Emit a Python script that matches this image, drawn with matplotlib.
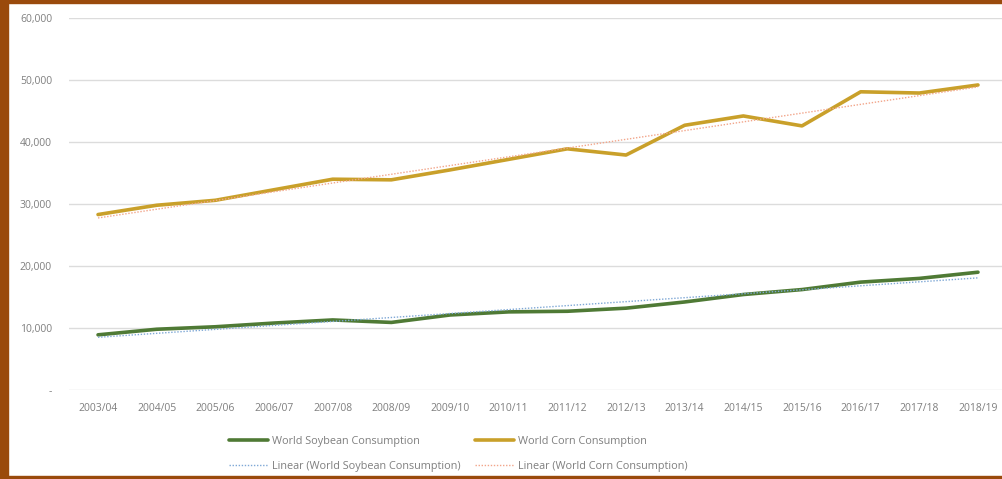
import numpy as np
import matplotlib
matplotlib.use("Agg")
import matplotlib.pyplot as plt
from matplotlib.patches import Rectangle
from matplotlib.ticker import FuncFormatter

# World consumption, thousand tonnes
seasons = ["2003/04", "2004/05", "2005/06", "2006/07", "2007/08", "2008/09",
           "2009/10", "2010/11", "2011/12", "2012/13", "2013/14", "2014/15",
           "2015/16", "2016/17", "2017/18", "2018/19"]
soybean = [8900, 9800, 10200, 10800, 11300, 10900, 12100, 12600,
           12700, 13200, 14200, 15400, 16200, 17400, 18000, 19000]
corn = [28300, 29800, 30600, 32300, 34000, 33900, 35500, 37200,
        38900, 37900, 42700, 44200, 42600, 48100, 47900, 49200]

SOY_COLOR = "#4f7a35"
CORN_COLOR = "#c9a02a"
SOY_TREND = "#7fa8d6"
CORN_TREND = "#f2a58a"
BORDER = "#9a4a0c"
TEXT = "#7f7f7f"

plt.rcParams['font.family'] = ['Open Sans', 'DejaVu Sans']

fig = plt.figure(figsize=(10.03, 4.79), dpi=100)
ax = fig.add_axes([0.0685, 0.1858, 0.9358, 0.7766])

x = np.arange(len(seasons))

# linear trendlines fitted to each series
soy_fit = np.polyval(np.polyfit(x, soybean, 1), x)
corn_fit = np.polyval(np.polyfit(x, corn, 1), x)

h_soy, = ax.plot(x, soybean, color=SOY_COLOR, lw=2.6, solid_capstyle="round",
                 label="World Soybean Consumption", zorder=3)
h_corn, = ax.plot(x, corn, color=CORN_COLOR, lw=2.6, solid_capstyle="round",
                  label="World Corn Consumption", zorder=3)
h_soy_t, = ax.plot(x, soy_fit, color=SOY_TREND, lw=1.0, ls=(0, (1, 1.2)),
                   label="Linear (World Soybean Consumption)", zorder=4)
h_corn_t, = ax.plot(x, corn_fit, color=CORN_TREND, lw=1.0, ls=(0, (1, 1.2)),
                    label="Linear (World Corn Consumption)", zorder=4)

ax.set_xlim(-0.5, len(seasons) - 0.5)
ax.set_ylim(0, 60000)
ax.set_yticks(range(0, 60001, 10000))
ax.yaxis.set_major_formatter(FuncFormatter(lambda v, p: "-" if v == 0 else f"{int(v):,}"))
ax.set_xticks(x)
ax.set_xticklabels(seasons)
ax.grid(axis="y", color="#dcdcdc", lw=1.0)
ax.set_axisbelow(True)
for s in ax.spines.values():
    s.set_visible(False)
ax.tick_params(axis="both", length=0, labelsize=7.5, colors=TEXT)
ax.tick_params(axis="x", pad=9)
ax.tick_params(axis="y", pad=12)

fig.legend(handles=[h_soy, h_soy_t, h_corn, h_corn_t], ncol=2,
           loc="center", bbox_to_anchor=(0.457, 0.053), frameon=False,
           fontsize=7.8, labelcolor=TEXT, handlelength=3.6,
           columnspacing=1.4, labelspacing=1.3, handletextpad=0.3)

# brown frame along the left, top and bottom edges
fig.patches.append(Rectangle((0, 0), 8 / 1003, 1, transform=fig.transFigure,
                             color=BORDER, zorder=10))
fig.patches.append(Rectangle((0, 1 - 3 / 479), 1, 3 / 479, transform=fig.transFigure,
                             color=BORDER, zorder=10))
fig.patches.append(Rectangle((0, 0), 1, 3 / 479, transform=fig.transFigure,
                             color=BORDER, zorder=10))

fig.savefig("out.png", dpi=100)
